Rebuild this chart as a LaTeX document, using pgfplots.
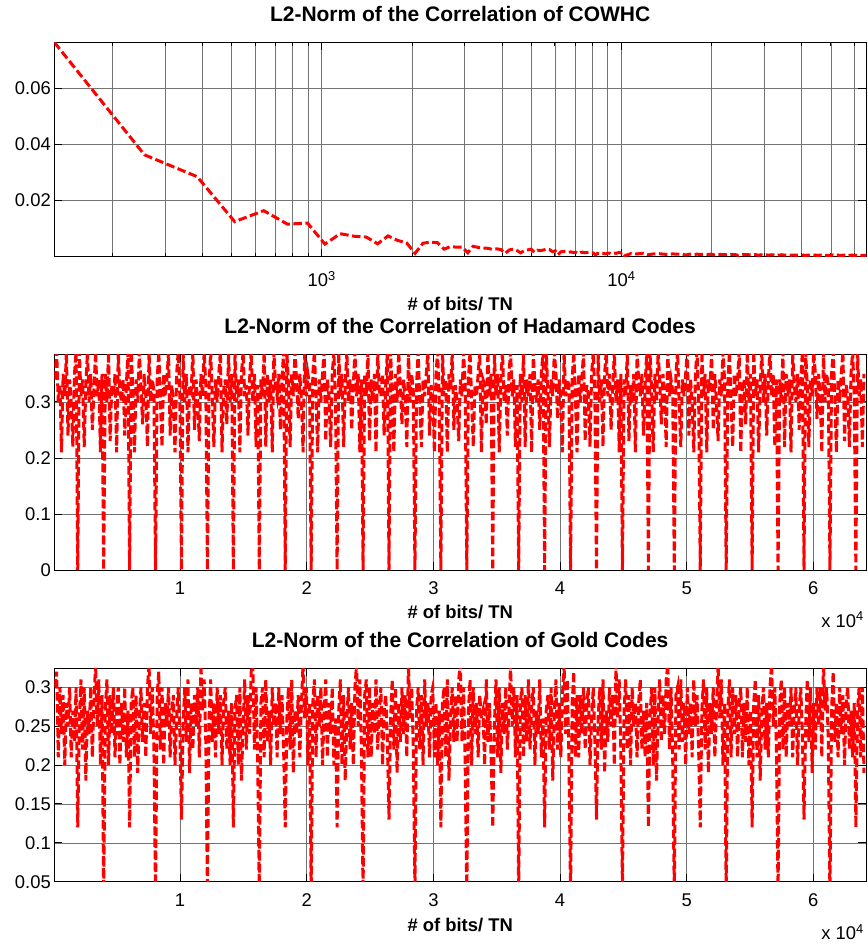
\documentclass[border=0pt]{standalone}
\usepackage{fontspec}
\setmainfont{Liberation Sans}
\usepackage{pgfplots}
\usepackage{pgfplotstable}
\pgfplotsset{compat=1.18}

\definecolor{plotred}{RGB}{255,0,0}

% L2-norm of the correlation, COWHC (x = number of bits / TN)
\pgfplotstableread[header=false,row sep=\\]{
128 0.0764\\256 0.0363\\384 0.0285\\512 0.0125\\640 0.0164\\768 0.0116\\896 0.0120\\1024 0.0045\\
1152 0.0082\\1280 0.0073\\1408 0.0070\\1536 0.0046\\1664 0.0074\\1792 0.0058\\1920 0.0049\\2048 0.0012\\
2176 0.0048\\2304 0.0052\\2432 0.0050\\2560 0.0027\\2688 0.0036\\2816 0.0034\\2944 0.0034\\3072 0.0014\\
3200 0.0037\\3328 0.0033\\3456 0.0031\\3584 0.0030\\3712 0.0026\\3840 0.0028\\3968 0.0025\\4096 0.0012\\
4224 0.0024\\4352 0.0027\\4480 0.0022\\4608 0.0014\\4736 0.0021\\4864 0.0024\\4992 0.0027\\5120 0.0016\\
5248 0.0023\\5376 0.0022\\5504 0.0024\\5632 0.0027\\5760 0.0025\\5888 0.0018\\6016 0.0021\\6144 0.0007\\
6272 0.0017\\6400 0.0019\\6528 0.0018\\6656 0.0016\\6784 0.0017\\6912 0.0015\\7040 0.0016\\7168 0.0011\\
7296 0.0015\\7424 0.0016\\7552 0.0014\\7680 0.0015\\7808 0.0016\\7936 0.0014\\8064 0.0013\\8192 0.0006\\
8320 0.0012\\8448 0.0011\\8576 0.0013\\8704 0.0012\\8832 0.0010\\8960 0.0012\\9088 0.0013\\9216 0.0011\\
9344 0.0012\\9472 0.0013\\9600 0.0012\\9728 0.0014\\9856 0.0015\\9984 0.0013\\10112 0.0015\\10240 0.0003\\
10752 0.0011\\11264 0.0010\\11776 0.0012\\12288 0.0007\\12800 0.0010\\13312 0.0011\\13824 0.0009\\14336 0.0008\\
14848 0.0010\\15360 0.0009\\15872 0.0010\\16384 0.0006\\16896 0.0009\\17408 0.0008\\17920 0.0009\\18432 0.0008\\
18944 0.0009\\19456 0.0008\\19968 0.0009\\20480 0.0006\\20992 0.0008\\21504 0.0008\\22016 0.0007\\22528 0.0008\\
23040 0.0007\\23552 0.0008\\24064 0.0007\\24576 0.0005\\25088 0.0007\\25600 0.0008\\26112 0.0007\\26624 0.0007\\
27136 0.0006\\27648 0.0007\\28160 0.0007\\28672 0.0005\\29184 0.0007\\29696 0.0006\\30208 0.0007\\30720 0.0006\\
31232 0.0006\\31744 0.0007\\32256 0.0006\\32768 0.0004\\33280 0.0006\\33792 0.0006\\34304 0.0007\\34816 0.0006\\
35328 0.0006\\35840 0.0005\\36352 0.0006\\36864 0.0005\\37376 0.0006\\37888 0.0006\\38400 0.0005\\38912 0.0006\\
39424 0.0006\\39936 0.0005\\40448 0.0006\\40960 0.0004\\41472 0.0005\\41984 0.0006\\42496 0.0005\\43008 0.0006\\
43520 0.0005\\44032 0.0005\\44544 0.0006\\45056 0.0004\\45568 0.0005\\46080 0.0006\\46592 0.0005\\47104 0.0005\\
47616 0.0006\\48128 0.0005\\48640 0.0005\\49152 0.0004\\49664 0.0005\\50176 0.0005\\50688 0.0006\\51200 0.0005\\
51712 0.0005\\52224 0.0005\\52736 0.0006\\53248 0.0004\\53760 0.0005\\54272 0.0005\\54784 0.0005\\55296 0.0006\\
55808 0.0005\\56320 0.0005\\56832 0.0005\\57344 0.0004\\57856 0.0005\\58368 0.0005\\58880 0.0006\\59392 0.0005\\
59904 0.0005\\60416 0.0005\\60928 0.0005\\61440 0.0004\\61952 0.0005\\62464 0.0005\\62976 0.0005\\63488 0.0005\\
64000 0.0005\\64512 0.0004\\65024 0.0005\\65536 0.0005\\
}\cowhc

% Hadamard codes: one value per 128 bits, starting at 128 bits
\pgfplotstableread[header=false,row sep=\\]{
0.34\\0.39\\0.30\\0.33\\0.21\\0.35\\0.31\\0.39\\0.24\\0.34\\0.30\\0.22\\0.35\\0.39\\
0.00\\0.39\\0.31\\0.34\\0.22\\0.33\\0.39\\0.30\\0.35\\0.25\\0.32\\0.39\\0.31\\0.34\\0.21\\0.35\\
0.00\\0.35\\0.30\\0.39\\0.23\\0.33\\0.31\\0.35\\0.21\\0.39\\0.32\\0.30\\0.34\\0.24\\0.33\\0.39\\
0.00\\0.39\\0.32\\0.21\\0.34\\0.30\\0.39\\0.33\\0.26\\0.35\\0.31\\0.22\\0.39\\0.30\\0.34\\0.32\\
0.00\\0.34\\0.39\\0.30\\0.22\\0.35\\0.31\\0.34\\0.39\\0.24\\0.33\\0.30\\0.21\\0.35\\0.39\\0.31\\
0.00\\0.39\\0.30\\0.35\\0.21\\0.33\\0.32\\0.39\\0.25\\0.34\\0.30\\0.23\\0.35\\0.31\\0.39\\0.33\\
0.00\\0.33\\0.39\\0.31\\0.22\\0.34\\0.30\\0.35\\0.39\\0.21\\0.32\\0.34\\0.26\\0.39\\0.30\\0.35\\
0.00\\0.39\\0.30\\0.34\\0.21\\0.35\\0.39\\0.31\\0.33\\0.24\\0.34\\0.39\\0.30\\0.35\\0.22\\0.33\\
0.00\\0.34\\0.31\\0.39\\0.22\\0.35\\0.30\\0.34\\0.21\\0.39\\0.33\\0.31\\0.35\\0.25\\0.34\\0.39\\
0.00\\0.39\\0.33\\0.22\\0.35\\0.31\\0.39\\0.34\\0.27\\0.35\\0.30\\0.21\\0.39\\0.31\\0.35\\0.33\\
0.00\\0.35\\0.39\\0.31\\0.21\\0.34\\0.30\\0.35\\0.39\\0.23\\0.34\\0.31\\0.22\\0.35\\0.39\\0.30\\
0.00\\0.39\\0.31\\0.35\\0.22\\0.33\\0.39\\0.30\\0.34\\0.25\\0.33\\0.39\\0.31\\0.35\\0.21\\0.34\\
0.00\\0.35\\0.31\\0.39\\0.23\\0.34\\0.30\\0.35\\0.21\\0.39\\0.32\\0.31\\0.35\\0.24\\0.33\\0.39\\
0.00\\0.39\\0.31\\0.21\\0.35\\0.30\\0.39\\0.33\\0.26\\0.34\\0.31\\0.22\\0.39\\0.30\\0.35\\0.32\\
0.00\\0.33\\0.39\\0.30\\0.22\\0.34\\0.31\\0.35\\0.39\\0.24\\0.33\\0.31\\0.21\\0.35\\0.39\\0.30\\
0.00\\0.39\\0.31\\0.34\\0.21\\0.35\\0.32\\0.39\\0.25\\0.33\\0.30\\0.23\\0.34\\0.31\\0.39\\0.33\\
0.00\\0.34\\0.39\\0.30\\0.22\\0.33\\0.31\\0.35\\0.39\\0.21\\0.34\\0.33\\0.26\\0.39\\0.31\\0.35\\
0.00\\0.39\\0.31\\0.35\\0.21\\0.34\\0.39\\0.30\\0.33\\0.24\\0.35\\0.39\\0.31\\0.34\\0.22\\0.33\\
0.00\\0.35\\0.30\\0.39\\0.22\\0.34\\0.31\\0.35\\0.21\\0.39\\0.33\\0.30\\0.34\\0.25\\0.35\\0.39\\
0.00\\0.39\\0.32\\0.22\\0.34\\0.31\\0.39\\0.35\\0.27\\0.34\\0.30\\0.21\\0.39\\0.31\\0.34\\0.33\\
0.00\\0.34\\0.39\\0.31\\0.21\\0.35\\0.30\\0.34\\0.39\\0.23\\0.33\\0.31\\0.22\\0.35\\0.39\\0.31\\
0.00\\0.39\\0.30\\0.34\\0.22\\0.35\\0.39\\0.31\\0.35\\0.25\\0.32\\0.39\\0.30\\0.34\\0.21\\0.35\\
0.00\\0.34\\0.31\\0.39\\0.23\\0.33\\0.30\\0.35\\0.21\\0.39\\0.34\\0.31\\0.35\\0.24\\0.33\\0.39\\
0.00\\0.39\\0.32\\0.21\\0.35\\0.30\\0.39\\0.34\\0.26\\0.35\\0.31\\0.22\\0.39\\0.31\\0.34\\0.32\\
0.00\\0.35\\0.39\\0.30\\0.22\\0.34\\0.31\\0.35\\0.39\\0.24\\0.34\\0.30\\0.21\\0.35\\0.39\\0.31\\
0.00\\0.39\\0.31\\0.35\\0.21\\0.34\\0.32\\0.39\\0.25\\0.35\\0.30\\0.23\\0.34\\0.31\\0.39\\0.34\\
0.00\\0.33\\0.39\\0.30\\0.22\\0.35\\0.31\\0.34\\0.39\\0.21\\0.33\\0.34\\0.26\\0.39\\0.30\\0.35\\
0.00\\0.39\\0.31\\0.34\\0.21\\0.33\\0.39\\0.30\\0.35\\0.24\\0.34\\0.39\\0.31\\0.35\\0.22\\0.34\\
0.00\\0.34\\0.30\\0.39\\0.22\\0.35\\0.31\\0.34\\0.21\\0.39\\0.33\\0.30\\0.35\\0.25\\0.34\\0.39\\
0.00\\0.39\\0.33\\0.22\\0.34\\0.31\\0.39\\0.35\\0.27\\0.35\\0.31\\0.21\\0.39\\0.30\\0.35\\0.33\\
0.00\\0.35\\0.39\\0.31\\0.21\\0.34\\0.30\\0.35\\0.39\\0.23\\0.33\\0.31\\0.22\\0.35\\0.39\\0.31\\
0.00\\0.39\\0.31\\0.34\\0.22\\0.35\\
}\hadamard

% Gold codes: one value per 128 bits, starting at 128 bits
\pgfplotstableread[header=false,row sep=\\]{
0.30\\0.32\\0.21\\0.30\\0.24\\0.29\\0.20\\0.28\\0.25\\0.30\\0.21\\0.27\\0.23\\0.30\\
0.12\\0.26\\0.31\\0.22\\0.30\\0.18\\0.27\\0.24\\0.30\\0.21\\0.28\\0.33\\0.25\\0.31\\0.20\\0.29\\
0.03\\0.27\\0.31\\0.20\\0.29\\0.24\\0.30\\0.21\\0.27\\0.30\\0.20\\0.28\\0.23\\0.30\\0.21\\0.27\\
0.12\\0.28\\0.30\\0.21\\0.29\\0.19\\0.26\\0.30\\0.23\\0.28\\0.21\\0.30\\0.33\\0.24\\0.30\\0.22\\
0.03\\0.29\\0.32\\0.22\\0.30\\0.20\\0.28\\0.25\\0.30\\0.21\\0.27\\0.29\\0.20\\0.26\\0.30\\0.24\\
0.13\\0.25\\0.30\\0.23\\0.31\\0.19\\0.28\\0.22\\0.29\\0.25\\0.30\\0.21\\0.33\\0.27\\0.31\\0.23\\
0.04\\0.26\\0.31\\0.23\\0.28\\0.21\\0.30\\0.24\\0.29\\0.20\\0.28\\0.30\\0.22\\0.27\\0.20\\0.28\\
0.12\\0.27\\0.29\\0.20\\0.30\\0.18\\0.25\\0.31\\0.22\\0.29\\0.24\\0.32\\0.33\\0.22\\0.30\\0.21\\
0.03\\0.28\\0.30\\0.21\\0.31\\0.23\\0.27\\0.20\\0.30\\0.25\\0.28\\0.21\\0.30\\0.24\\0.29\\0.22\\
0.12\\0.26\\0.30\\0.22\\0.31\\0.19\\0.27\\0.24\\0.29\\0.21\\0.28\\0.33\\0.26\\0.30\\0.20\\0.28\\
0.03\\0.28\\0.31\\0.21\\0.29\\0.25\\0.30\\0.20\\0.27\\0.31\\0.21\\0.28\\0.24\\0.30\\0.20\\0.26\\
0.12\\0.27\\0.31\\0.20\\0.29\\0.18\\0.26\\0.30\\0.22\\0.28\\0.20\\0.30\\0.33\\0.25\\0.31\\0.22\\
0.03\\0.29\\0.31\\0.21\\0.30\\0.21\\0.28\\0.24\\0.31\\0.22\\0.27\\0.30\\0.20\\0.27\\0.29\\0.23\\
0.13\\0.26\\0.31\\0.22\\0.30\\0.19\\0.28\\0.23\\0.30\\0.24\\0.29\\0.21\\0.33\\0.26\\0.30\\0.22\\
0.04\\0.27\\0.30\\0.22\\0.29\\0.20\\0.31\\0.25\\0.28\\0.21\\0.29\\0.30\\0.21\\0.28\\0.20\\0.27\\
0.12\\0.28\\0.30\\0.21\\0.31\\0.18\\0.26\\0.30\\0.23\\0.29\\0.23\\0.31\\0.33\\0.23\\0.30\\0.20\\
0.03\\0.27\\0.31\\0.20\\0.30\\0.24\\0.28\\0.21\\0.29\\0.26\\0.27\\0.20\\0.31\\0.23\\0.28\\0.21\\
0.12\\0.25\\0.31\\0.21\\0.30\\0.19\\0.28\\0.24\\0.30\\0.22\\0.27\\0.33\\0.25\\0.30\\0.21\\0.29\\
0.03\\0.28\\0.30\\0.21\\0.29\\0.23\\0.31\\0.22\\0.28\\0.30\\0.20\\0.27\\0.24\\0.31\\0.21\\0.26\\
0.12\\0.27\\0.29\\0.22\\0.30\\0.18\\0.27\\0.31\\0.22\\0.28\\0.21\\0.29\\0.33\\0.24\\0.31\\0.21\\
0.03\\0.28\\0.32\\0.21\\0.29\\0.21\\0.29\\0.24\\0.30\\0.22\\0.28\\0.30\\0.20\\0.26\\0.30\\0.23\\
0.13\\0.26\\0.30\\0.22\\0.31\\0.19\\0.27\\0.23\\0.30\\0.25\\0.29\\0.20\\0.33\\0.26\\0.31\\0.22\\
0.04\\0.27\\0.31\\0.22\\0.29\\0.20\\0.30\\0.25\\0.28\\0.21\\0.28\\0.31\\0.22\\0.27\\0.21\\0.28\\
0.12\\0.26\\0.30\\0.20\\0.30\\0.18\\0.26\\0.31\\0.23\\0.29\\0.24\\0.31\\0.33\\0.22\\0.30\\0.21\\
0.03\\0.29\\0.30\\0.22\\0.31\\0.23\\0.28\\0.20\\0.30\\0.24\\0.28\\0.21\\0.31\\0.25\\0.29\\0.22\\
0.12\\0.27\\0.31\\0.22\\0.30\\0.19\\0.28\\0.24\\0.30\\0.21\\0.27\\0.33\\0.26\\0.31\\0.20\\0.28\\
0.03\\0.27\\0.31\\0.21\\0.30\\0.24\\0.29\\0.21\\0.28\\0.30\\0.21\\0.28\\0.23\\0.30\\0.20\\0.27\\
0.12\\0.28\\0.31\\0.21\\0.29\\0.18\\0.27\\0.30\\0.22\\0.28\\0.21\\0.30\\0.33\\0.25\\0.30\\0.22\\
0.03\\0.28\\0.31\\0.22\\0.30\\0.21\\0.28\\0.25\\0.30\\0.21\\0.27\\0.30\\0.20\\0.27\\0.30\\0.24\\
0.13\\0.25\\0.31\\0.23\\0.30\\0.19\\0.28\\0.22\\0.30\\0.25\\0.30\\0.21\\0.33\\0.27\\0.30\\0.23\\
0.03\\0.27\\0.32\\0.23\\0.28\\0.21\\0.30\\0.24\\0.29\\0.20\\0.28\\0.30\\0.22\\0.27\\0.21\\0.28\\
0.12\\0.27\\0.30\\0.21\\0.30\\0.19\\
}\gold

\pgfplotsset{
  matlab/.style={
    scale only axis,
    width=811.7bp,
    axis line style={black, line width=0.9bp},
    tick style={black, line width=0.9bp},
    tick align=inside,
    major tick length=8bp,
    minor tick length=4bp,
    xmajorgrids, ymajorgrids,
    grid style={black!55, line width=0.6bp},
    minor grid style={black!55, line width=0.6bp},
    ticklabel style={font=\fontsize{18.4bp}{20bp}\selectfont},
    label style={font=\bfseries\fontsize{18.4bp}{20bp}\selectfont},
    title style={font=\bfseries\fontsize{21bp}{24bp}\selectfont, at={(0.5,1)}, anchor=base, yshift=15bp},
    xlabel style={at={(0.5,0)}, anchor=base},
    xticklabel style={anchor=base},
    scaled x ticks=false,
    scaled y ticks=false,
  },
  redline/.style={plotred, line width=3bp, dash pattern=on 8.5bp off 3.5bp},
}

\newcommand{\xtenfour}{\fontsize{18.4bp}{20bp}\selectfont x 10\textsuperscript{4}}

\begin{document}
\begin{tikzpicture}
\path[use as bounding box] (0,0) rectangle (868bp,-947bp);

% COWHC
\begin{axis}[matlab,
  at={(54.3bp,-256.7bp)}, anchor=south west, height=214.4bp,
  xmode=log, xmin=128, xmax=65536, ymin=0, ymax=0.0764,
  xtick={1000,10000}, xticklabels={10\textsuperscript{3},10\textsuperscript{4}},
  minor xtick={200,300,400,500,600,700,800,900,2000,3000,4000,5000,6000,7000,8000,9000,20000,30000,40000,50000,60000},
  xminorgrids,
  ytick={0.02,0.04,0.06}, yticklabels={0.02,0.04,0.06},
  xticklabel style={yshift=-30bp},
  xlabel style={yshift=-54bp},
  title={L2-Norm of the Correlation of COWHC},
  xlabel={\# of bits/ TN},
]
\addplot[redline] table[x index=0, y index=1] {\cowhc};
\end{axis}

% Hadamard codes
\begin{axis}[matlab, name=had,
  at={(54.3bp,-570bp)}, anchor=south west, height=215.7bp,
  xmin=70, xmax=64160, ymin=0, ymax=0.385,
  xtick={10000,20000,30000,40000,50000,60000}, xticklabels={1,2,3,4,5,6},
  ytick={0,0.1,0.2,0.3}, yticklabels={0,0.1,0.2,0.3},
  xticklabel style={yshift=-24bp},
  xlabel style={yshift=-48bp},
  title={L2-Norm of the Correlation of Hadamard Codes},
  xlabel={\# of bits/ TN},
]
\addplot[redline] table[x expr=128*\coordindex+128, y index=0] {\hadamard};
\end{axis}
\node[anchor=base east, inner sep=0pt] at ([xshift=-2bp, yshift=-57bp]had.south east) {\xtenfour};

% Gold codes
\begin{axis}[matlab, name=gold,
  at={(54.3bp,-881.7bp)}, anchor=south west, height=213.4bp,
  xmin=70, xmax=64160, ymin=0.05, ymax=0.3244,
  xtick={10000,20000,30000,40000,50000,60000}, xticklabels={1,2,3,4,5,6},
  ytick={0.05,0.1,0.15,0.2,0.25,0.3}, yticklabels={0.05,0.1,0.15,0.2,0.25,0.3},
  xticklabel style={yshift=-25bp},
  xlabel style={yshift=-50bp},
  title={L2-Norm of the Correlation of Gold Codes},
  xlabel={\# of bits/ TN},
]
\addplot[redline] table[x expr=128*\coordindex+128, y index=0] {\gold};
\end{axis}
\node[anchor=base east, inner sep=0pt] at ([xshift=-2bp, yshift=-58bp]gold.south east) {\xtenfour};
\end{tikzpicture}
\end{document}
